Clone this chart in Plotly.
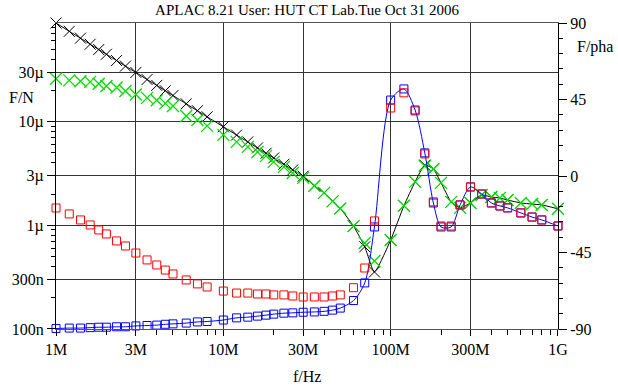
import plotly.graph_objects as go
import math

# Frequencies (Hz)
freq = [1e6, 1.2e6, 1.4e6, 1.6e6, 1.8e6, 2e6, 2.3e6, 2.6e6, 3e6, 3.5e6, 4e6, 4.5e6, 5e6, 6e6, 7e6, 8e6,
        1e7, 1.2e7, 1.4e7, 1.6e7, 1.8e7, 2e7, 2.3e7, 2.6e7, 3e7, 3.5e7, 4e7, 4.5e7, 5e7, 6e7, 7e7, 8e7,
        1e8, 1.2e8, 1.4e8, 1.6e8, 1.8e8, 2e8, 2.3e8, 2.6e8, 3e8, 3.5e8, 4e8, 4.5e8, 5e8, 6e8, 7e8, 8e8, 1e9]

# Series values in micro units (F/N)
black_u = [89, 74, 63.6, 55.6, 49.4, 44.5, 38.7, 34.2, 29.7, 25.4, 22.3, 19.8, 17.8, 14.8, 12.7, 11.1,
           8.9, 7.4, 6.36, 5.56, 4.94, 4.45, 3.87, 3.42, 2.97, 2.4, 2.05, 1.70, 1.45, 0.98, 0.62, 0.355,
           0.72, 1.54, 2.62, 3.8, 3.5, 2.56, 1.68, 1.47, 1.64, 1.96, 1.87, 1.83, 1.75, 1.64, 1.60, 1.57, 1.44]

green_u = [25.8, 24.9, 24.4, 24.1, 23.1, 22.0, 21.3, 19.7, 18.2, 16.9, 16.0, 14.95, 14.1, 11.3, 10.35, 9.07,
           7.43, 6.36, 5.69, 5.09, 4.66, 4.08, 3.65, 3.19, 2.86, 2.4, 2.05, 1.70, 1.45, 0.98, 0.674, 0.453,
           0.72, 1.54, 2.62, 3.73, 3.49, 2.56, 1.68, 1.47, 1.64, 1.96, 1.87, 1.83, 1.75, 1.64, 1.60, 1.57, 1.44]

red_u = [1.468, 1.285, 1.125, 1.006, 0.901, 0.824, 0.706, 0.631, 0.540, 0.463, 0.414, 0.370, 0.339, 0.297, 0.272, 0.254,
         0.232, 0.222, 0.222, 0.2175, 0.2175, 0.213, 0.213, 0.208, 0.2035, 0.2035, 0.2035, 0.208, 0.213, 0.250, 0.387, 1.10,
         13.5, 18.9, 12.65, 4.87, 1.68, 0.984, 0.984, 1.57, 2.34, 2.0, 1.64, 1.535, 1.47, 1.315, 1.20, 1.125, 0.984]

blue_u = [0.101, 0.102, 0.102, 0.103, 0.104, 0.104, 0.105, 0.105, 0.107, 0.108, 0.109, 0.111, 0.112, 0.114, 0.117, 0.118,
          0.122, 0.128, 0.130, 0.133, 0.136, 0.139, 0.142, 0.143, 0.145, 0.146, 0.148, 0.152, 0.159, 0.188, 0.278, 0.963,
          16.1, 20.6, 12.9, 4.98, 1.64, 0.963, 0.963, 1.57, 2.34, 2.0, 1.64, 1.535, 1.47, 1.315, 1.20, 1.125, 0.984]

x_tickvals = [1e6, 3e6, 1e7, 3e7, 1e8, 3e8, 1e9]
x_ticktext = ["1M", "3M", "10M", "30M", "100M", "300M", "1G"]
y_tickvals = [1e-7, 3e-7, 1e-6, 3e-6, 1e-5, 3e-5]
y_ticktext = ["100n", "300n", "1µ", "3µ", "10µ", "30µ"]
y2_tickvals = [-90, -45, 0, 45, 90]
y2_ticktext = ["-90", "-45", "0", "45", "90"]

x_minor = [m * 10 ** k for k in (6, 7, 8) for m in (2, 4, 5, 6, 7, 8, 9)]
y_minor = [m * 10 ** k for k in (-7, -6, -5) for m in (2, 4, 5, 6, 7, 8, 9)]

U = 1e-6
black = [v * U for v in black_u]
green = [v * U for v in green_u]
red = [v * U for v in red_u]
blue = [v * U for v in blue_u]

FONT = "Liberation Serif"
EPS = 2e-4  # tiny range padding so points exactly on the edge are not dropped

fig = go.Figure()
fig.add_trace(go.Scatter(x=freq, y=black, mode="lines+markers",
                         line=dict(color="black", width=1, shape="spline", smoothing=0.5),
                         marker=dict(symbol="x-thin", size=11, line=dict(color="black", width=1)),
                         cliponaxis=False, showlegend=False))
fig.add_trace(go.Scatter(x=freq, y=green, mode="markers",
                         marker=dict(symbol="x-thin", size=12, line=dict(color="#00dd00", width=1.3)),
                         cliponaxis=False, showlegend=False))
fig.add_trace(go.Scatter(x=freq, y=blue, mode="lines+markers",
                         line=dict(color="#0000ff", width=1, shape="spline", smoothing=0.8),
                         marker=dict(symbol="square-open", size=8, color="#0000ff", line=dict(width=1)),
                         cliponaxis=False, showlegend=False))
fig.add_trace(go.Scatter(x=freq, y=red, mode="markers",
                         marker=dict(symbol="square-open", size=8, color="#ff0000", line=dict(width=1)),
                         cliponaxis=False, showlegend=False))
fig.add_trace(go.Scatter(x=[None], y=[None], yaxis="y2", mode="markers", showlegend=False, hoverinfo="skip"))

fig.update_layout(
    width=618, height=390,
    margin=dict(l=56, r=60, t=23, b=61),
    paper_bgcolor="white", plot_bgcolor="white",
    font=dict(family=FONT, size=16, color="black"),
    title=dict(text="APLAC 8.21 User: HUT CT Lab.Tue Oct 31 2006", x=0.5, xref="paper",
               y=1 - 10 / 390, yanchor="middle", font=dict(family=FONT, size=15)),
    xaxis=dict(type="log", range=[6 - EPS, 9 + EPS], tickmode="array", tickvals=x_tickvals, ticktext=x_ticktext,
               showgrid=True, gridcolor="#333333", gridwidth=1,
               ticks="outside", ticklen=6, tickcolor="black",
               minor=dict(tickvals=x_minor, ticks="outside", ticklen=5, tickcolor="black", showgrid=False),
               showline=True, linecolor="#555555", linewidth=1, mirror=True, zeroline=False,
               tickfont=dict(family=FONT, size=16)),
    yaxis=dict(type="log", range=[-7 - EPS, math.log10(8.9e-5) + EPS], tickmode="array", tickvals=y_tickvals,
               ticktext=y_ticktext, showgrid=True, gridcolor="#333333", gridwidth=1,
               ticks="outside", ticklen=8, tickcolor="black",
               minor=dict(tickvals=y_minor, ticks="outside", ticklen=4, tickcolor="black", showgrid=False),
               showline=True, linecolor="black", linewidth=1, zeroline=False,
               tickfont=dict(family=FONT, size=16)),
    yaxis2=dict(overlaying="y", side="right", range=[-90, 90], tickmode="array",
                tickvals=y2_tickvals, ticktext=y2_ticktext, showgrid=False,
                ticks="outside", ticklen=8, tickcolor="black",
                minor=dict(dtick=9, tick0=0, ticks="outside", ticklen=4, tickcolor="black", showgrid=False),
                showline=True, linecolor="black", linewidth=1, zeroline=False,
                tickfont=dict(family=FONT, size=16)),
    annotations=[
        dict(text="F/N", x=(21 - 56) / 502, y=(329 - 97) / 306, xref="paper", yref="paper",
             showarrow=False, xanchor="center", yanchor="middle", font=dict(family=FONT, size=16)),
        dict(text="F/pha", x=(575 - 56) / 502, y=(329 - 47) / 306, xref="paper", yref="paper",
             showarrow=False, xanchor="left", yanchor="middle", font=dict(family=FONT, size=16)),
        dict(text="f/Hz", x=0.5, y=(329 - 377) / 306, xref="paper", yref="paper",
             showarrow=False, xanchor="center", yanchor="middle", font=dict(family=FONT, size=16)),
    ],
)

fig.write_html("out.html", config={"displayModeBar": False})

# remove the default page margin so the figure sits at the window's top-left corner
with open("out.html", "r", encoding="utf-8") as fh:
    html = fh.read()
html = html.replace("<body>", '<body style="margin:0;padding:0;">', 1)
with open("out.html", "w", encoding="utf-8") as fh:
    fh.write(html)
